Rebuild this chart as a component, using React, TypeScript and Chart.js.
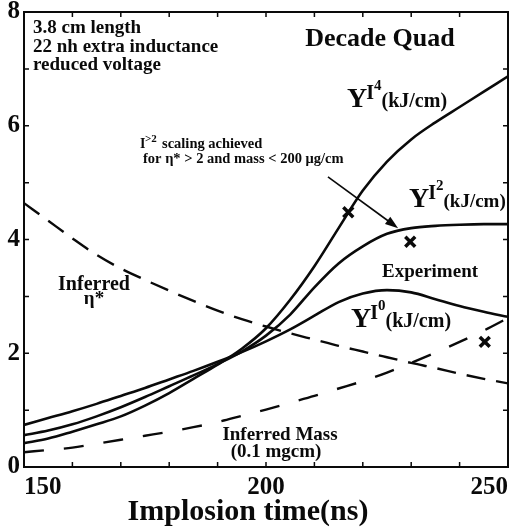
import React, { useEffect, useRef } from "react";
import { Chart, registerables } from "chart.js";

Chart.register(...registerables);

const times = [150, 155, 160, 165, 170, 175, 180, 185, 190, 195, 200, 205, 210, 215, 220, 225, 230, 235, 240, 245, 250];
const yieldI4 = [0.42, 0.5, 0.62, 0.75, 0.89, 1.08, 1.3, 1.55, 1.8, 2.08, 2.44, 2.94, 3.53, 4.2, 4.86, 5.37, 5.76, 6.06, 6.33, 6.6, 6.87];
const yieldI2 = [0.56, 0.64, 0.75, 0.89, 1.05, 1.23, 1.42, 1.61, 1.81, 2.03, 2.31, 2.68, 3.16, 3.58, 3.88, 4.1, 4.2, 4.24, 4.26, 4.27, 4.27];
const yieldI0 = [0.74, 0.86, 0.98, 1.11, 1.25, 1.39, 1.54, 1.69, 1.85, 2.02, 2.21, 2.42, 2.66, 2.9, 3.05, 3.11, 3.07, 2.95, 2.83, 2.73, 2.64];
const inferredEta = [4.64, 4.33, 4.02, 3.73, 3.49, 3.29, 3.1, 2.92, 2.75, 2.6, 2.47, 2.35, 2.24, 2.13, 2.03, 1.93, 1.83, 1.74, 1.64, 1.55, 1.47];
const inferredMass = [0.26, 0.3, 0.34, 0.41, 0.48, 0.55, 0.62, 0.7, 0.79, 0.9, 1.01, 1.13, 1.25, 1.38, 1.51, 1.66, 1.83, 2.01, 2.2, 2.4, 2.62];
const expTimes = [217, 229.8, 245.2];
const expYield = [4.48, 3.96, 2.2];
const arrowFrom = [212.8, 5.1];
const arrowTo = [227.3, 4.2];
const xTickLabels = ["150", "200", "250"];
const yTickLabels = ["0", "2", "4", "6", "8"];

const SERIF = '"Liberation Serif", "DejaVu Serif", serif';
const INK = "#0a0a0a";

function pts(ys: number[]) {
  return times.map((t, i) => ({ x: t, y: ys[i] }));
}

function txt(ctx: CanvasRenderingContext2D, s: string, x: number, y: number, size: number, align: CanvasTextAlign = "left") {
  ctx.font = `bold ${size}px ${SERIF}`;
  ctx.textAlign = align;
  ctx.textBaseline = "alphabetic";
  ctx.fillText(s, x, y);
}

function yLabel(ctx: CanvasRenderingContext2D, x: number, base: number, sup: string, unitSize: number) {
  ctx.textAlign = "left";
  ctx.textBaseline = "alphabetic";
  ctx.font = `bold 28px ${SERIF}`;
  ctx.fillText("Y", x, base);
  let cx = x + ctx.measureText("Y").width - 1;
  ctx.font = `bold 20px ${SERIF}`;
  ctx.fillText("I", cx, base - 8);
  cx += ctx.measureText("I").width;
  ctx.font = `bold 15px ${SERIF}`;
  ctx.fillText(sup, cx, base - 17);
  cx += ctx.measureText(sup).width;
  ctx.font = `bold ${unitSize}px ${SERIF}`;
  ctx.fillText("(kJ/cm)", cx, base);
}

const decor = {
  id: "decor",
  afterDraw(chart: any) {
    const ctx: CanvasRenderingContext2D = chart.ctx;
    const { left, right, top, bottom } = chart.chartArea;
    const xs = chart.scales.x;
    const ys = chart.scales.y;
    ctx.save();
    ctx.strokeStyle = INK;
    ctx.fillStyle = INK;
    ctx.lineWidth = 2;
    ctx.strokeRect(left, top, right - left, bottom - top);
    ctx.lineWidth = 1.5;
    ctx.beginPath();
    xs.ticks.forEach((t: any) => {
      const px = xs.getPixelForValue(t.value);
      ctx.moveTo(px, bottom);
      ctx.lineTo(px, bottom - 5);
      ctx.moveTo(px, top);
      ctx.lineTo(px, top + 5);
    });
    ys.ticks.forEach((t: any) => {
      const py = ys.getPixelForValue(t.value);
      ctx.moveTo(left, py);
      ctx.lineTo(left + 5, py);
      ctx.moveTo(right, py);
      ctx.lineTo(right - 5, py);
    });
    ctx.stroke();

    // arrow
    const ax0 = xs.getPixelForValue(arrowFrom[0]);
    const ay0 = ys.getPixelForValue(arrowFrom[1]);
    const ax1 = xs.getPixelForValue(arrowTo[0]);
    const ay1 = ys.getPixelForValue(arrowTo[1]);
    const ang = Math.atan2(ay1 - ay0, ax1 - ax0);
    ctx.lineWidth = 1.6;
    ctx.beginPath();
    ctx.moveTo(ax0, ay0);
    ctx.lineTo(ax1 - 10 * Math.cos(ang), ay1 - 10 * Math.sin(ang));
    ctx.stroke();
    ctx.beginPath();
    ctx.moveTo(ax1, ay1);
    ctx.lineTo(ax1 - 13 * Math.cos(ang) + 4.5 * Math.sin(ang), ay1 - 13 * Math.sin(ang) - 4.5 * Math.cos(ang));
    ctx.lineTo(ax1 - 13 * Math.cos(ang) - 4.5 * Math.sin(ang), ay1 - 13 * Math.sin(ang) + 4.5 * Math.cos(ang));
    ctx.closePath();
    ctx.fill();

    // texts
    txt(ctx, "3.8 cm length", 33, 33, 19);
    txt(ctx, "22 nh extra inductance", 33, 52, 19);
    txt(ctx, "reduced voltage", 33, 70, 19);
    txt(ctx, "Decade Quad", 380, 46, 26, "center");
    yLabel(ctx, 347, 107, "4", 20);
    yLabel(ctx, 409, 207, "2", 19);
    yLabel(ctx, 351, 327, "0", 20);
    txt(ctx, "Experiment", 430, 277, 19, "center");
    txt(ctx, "Inferred", 94, 290, 20, "center");
    txt(ctx, "\u03b7*", 94, 304, 19, "center");
    txt(ctx, "Inferred Mass", 280, 440, 19, "center");
    txt(ctx, "(0.1 mgcm)", 276, 457, 19, "center");

    // scaling note
    ctx.textAlign = "left";
    ctx.font = `bold 14px ${SERIF}`;
    ctx.fillText("I", 140, 148);
    ctx.font = `bold 11px ${SERIF}`;
    ctx.fillText(">2", 145, 142);
    ctx.font = `bold 14.5px ${SERIF}`;
    ctx.fillText("scaling achieved", 162, 148);
    ctx.fillText("for \u03b7* > 2 and mass < 200 \u03bcg/cm", 143, 163);

    // axis title
    txt(ctx, "Implosion time(ns)", 248, 520, 30, "center");
    ctx.restore();
  },
};

export default function App() {
  const ref = useRef<HTMLCanvasElement | null>(null);
  useEffect(() => {
    document.body.style.margin = "0";
    const canvas = ref.current!;
    const solid = (ys: number[]) => ({
      data: pts(ys),
      borderColor: INK,
      borderWidth: 2.6,
      pointRadius: 0,
      fill: false,
      cubicInterpolationMode: "monotone" as const,
    });
    const dashed = (ys: number[], dash: number[]) => ({
      ...solid(ys),
      borderWidth: 2.4,
      borderDash: dash,
    });
    const noPad = (s: any) => {
      s.paddingTop = 0;
      s.paddingBottom = 0;
      s.paddingLeft = 0;
      s.paddingRight = 0;
    };
    const chart = new Chart(canvas, {
      type: "line",
      data: {
        datasets: [
          { label: "Y I4", ...solid(yieldI4) },
          { label: "Y I2", ...solid(yieldI2) },
          { label: "Y I0", ...solid(yieldI0) },
          { label: "Inferred eta*", ...dashed(inferredEta, [19, 11]) },
          { label: "Inferred Mass", ...dashed(inferredMass, [20, 20]) },
          {
            label: "Experiment",
            type: "scatter" as const,
            data: expTimes.map((t, i) => ({ x: t, y: expYield[i] })),
            pointStyle: "crossRot",
            pointRadius: 7,
            borderWidth: 3.5,
            borderColor: INK,
            showLine: false,
          } as any,
        ],
      },
      options: {
        animation: false,
        responsive: false,
        devicePixelRatio: 1,
        layout: { autoPadding: false, padding: { left: 0, top: 12, right: 3, bottom: 0 } },
        plugins: { legend: { display: false }, tooltip: { enabled: false }, title: { display: false } },
        scales: {
          x: {
            type: "linear",
            min: 150,
            max: 250,
            grid: { display: false, drawTicks: false },
            border: { display: false },
            ticks: {
              stepSize: 10,
              autoSkip: false,
              maxRotation: 0,
              align: "inner",
              padding: 6,
              color: INK,
              font: { family: SERIF, size: 25, weight: "bold" },
              callback: (v: any) => (xTickLabels.includes(String(v)) ? String(v) : ""),
            },
            afterFit: (s: any) => {
              s.height = 60;
              noPad(s);
            },
          },
          y: {
            type: "linear",
            min: 0,
            max: 8,
            grid: { display: false, drawTicks: false },
            border: { display: false },
            ticks: {
              stepSize: 1,
              autoSkip: false,
              padding: 4,
              color: INK,
              font: { family: SERIF, size: 25, weight: "bold" },
              callback: (v: any) => (yTickLabels.includes(String(v)) ? String(v) : ""),
            },
            afterFit: (s: any) => {
              s.width = 24;
              noPad(s);
            },
          },
        },
      },
      plugins: [decor],
    } as any);
    return () => chart.destroy();
  }, []);
  return (
    <div style={{ position: "absolute", left: 0, top: 0, width: 511, height: 527 }}>
      <canvas ref={ref} width={511} height={527} style={{ display: "block" }} />
    </div>
  );
}
